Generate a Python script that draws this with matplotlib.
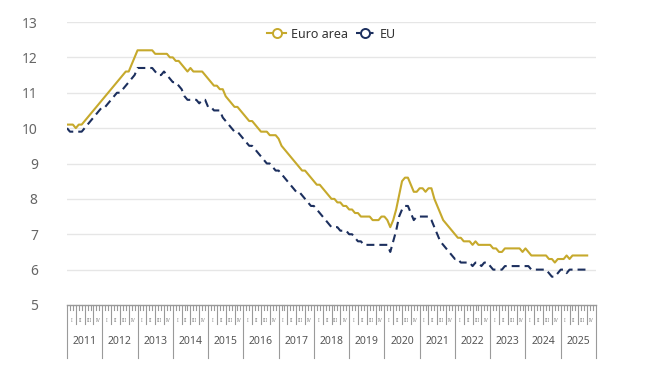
import matplotlib
matplotlib.use("Agg")
import matplotlib.pyplot as plt
from matplotlib.lines import Line2D
import numpy as np

plt.rcParams['font.family'] = ['Noto Sans', 'DejaVu Sans']

years = list(range(2011, 2026))
quarters = ["I", "II", "III", "IV"]

euro_area = [
    # 2011
    10.1, 10.1, 10.1, 10.0, 10.1, 10.1, 10.2, 10.3, 10.4, 10.5, 10.6, 10.7,
    # 2012
    10.8, 10.9, 11.0, 11.1, 11.2, 11.3, 11.4, 11.5, 11.6, 11.6, 11.8, 12.0,
    # 2013
    12.2, 12.2, 12.2, 12.2, 12.2, 12.2, 12.1, 12.1, 12.1, 12.1, 12.1, 12.0,
    # 2014
    12.0, 11.9, 11.9, 11.8, 11.7, 11.6, 11.7, 11.6, 11.6, 11.6, 11.6, 11.5,
    # 2015
    11.4, 11.3, 11.2, 11.2, 11.1, 11.1, 10.9, 10.8, 10.7, 10.6, 10.6, 10.5,
    # 2016
    10.4, 10.3, 10.2, 10.2, 10.1, 10.0, 9.9, 9.9, 9.9, 9.8, 9.8, 9.8,
    # 2017
    9.7, 9.5, 9.4, 9.3, 9.2, 9.1, 9.0, 8.9, 8.8, 8.8, 8.7, 8.6,
    # 2018
    8.5, 8.4, 8.4, 8.3, 8.2, 8.1, 8.0, 8.0, 7.9, 7.9, 7.8, 7.8,
    # 2019
    7.7, 7.7, 7.6, 7.6, 7.5, 7.5, 7.5, 7.5, 7.4, 7.4, 7.4, 7.5,
    # 2020
    7.5, 7.4, 7.2, 7.4, 7.7, 8.1, 8.5, 8.6, 8.6, 8.4, 8.2, 8.2,
    # 2021
    8.3, 8.3, 8.2, 8.3, 8.3, 8.0, 7.8, 7.6, 7.4, 7.3, 7.2, 7.1,
    # 2022
    7.0, 6.9, 6.9, 6.8, 6.8, 6.8, 6.7, 6.8, 6.7, 6.7, 6.7, 6.7,
    # 2023
    6.7, 6.6, 6.6, 6.5, 6.5, 6.6, 6.6, 6.6, 6.6, 6.6, 6.6, 6.5,
    # 2024
    6.6, 6.5, 6.4, 6.4, 6.4, 6.4, 6.4, 6.4, 6.3, 6.3, 6.2, 6.3,
    # 2025
    6.3, 6.3, 6.4, 6.3, 6.4, 6.4, 6.4, 6.4, 6.4, 6.4,
]

eu = [
    # 2011
    10.0, 9.9, 9.9, 9.9, 9.9, 9.9, 10.0, 10.1, 10.2, 10.3, 10.4, 10.5,
    # 2012
    10.6, 10.6, 10.7, 10.8, 10.9, 11.0, 11.0, 11.1, 11.2, 11.3, 11.4, 11.5,
    # 2013
    11.7, 11.7, 11.7, 11.7, 11.7, 11.7, 11.6, 11.5, 11.5, 11.6, 11.5, 11.4,
    # 2014
    11.3, 11.3, 11.2, 11.1, 10.9, 10.8, 10.8, 10.8, 10.8, 10.7, 10.8, 10.8,
    # 2015
    10.6, 10.6, 10.5, 10.5, 10.5, 10.3, 10.2, 10.1, 10.0, 9.9, 9.9, 9.8,
    # 2016
    9.7, 9.6, 9.5, 9.5, 9.4, 9.3, 9.2, 9.1, 9.0, 9.0, 8.9, 8.8,
    # 2017
    8.8, 8.7, 8.6, 8.5, 8.4, 8.3, 8.2, 8.2, 8.1, 8.0, 7.9, 7.8,
    # 2018
    7.8, 7.7, 7.6, 7.5, 7.4, 7.3, 7.2, 7.2, 7.2, 7.1, 7.1, 7.1,
    # 2019
    7.0, 7.0, 6.9, 6.8, 6.8, 6.7, 6.7, 6.7, 6.7, 6.7, 6.7, 6.7,
    # 2020
    6.7, 6.7, 6.5, 6.8, 7.1, 7.5, 7.7, 7.8, 7.8, 7.6, 7.4, 7.5,
    # 2021
    7.5, 7.5, 7.5, 7.5, 7.4, 7.2, 7.0, 6.8, 6.7, 6.6, 6.5, 6.4,
    # 2022
    6.3, 6.3, 6.2, 6.2, 6.2, 6.2, 6.1, 6.2, 6.2, 6.1, 6.2, 6.2,
    # 2023
    6.1, 6.0, 6.0, 6.0, 6.0, 6.1, 6.1, 6.1, 6.1, 6.1, 6.1, 6.1,
    # 2024
    6.1, 6.1, 6.0, 6.0, 6.0, 6.0, 6.0, 6.0, 5.9, 5.8, 5.8, 5.9,
    # 2025
    6.0, 6.0, 5.9, 6.0, 6.0, 6.0, 6.0, 6.0, 6.0, 6.0,
]

series_names = ["Euro area", "EU"]
yticks = list(range(5, 14))

EURO_C = "#c6a92c"
EU_C = "#1c2f5e"
GRID_C = "#e6e6e6"
AX_C = "#9a9a9a"
TXT_C = "#666666"

W, H = 650, 365
fig = plt.figure(figsize=(W / 100, H / 100), dpi=100)
L, R, T, B = 67, 596, 22, 305
ax = fig.add_axes([L / W, 1 - B / H, (R - L) / W, (B - T) / H])
ax_h = B - T

n_months = len(years) * 12
months = np.arange(len(euro_area))
ax.set_xlim(0, n_months)
ax.set_ylim(5, 13)

for s in ax.spines.values():
    s.set_visible(False)
ax.set_xticks([])
ax.set_yticks(yticks)
ax.set_yticklabels([str(v) for v in yticks])
ax.tick_params(axis='y', length=0, pad=21, labelsize=10, labelcolor=TXT_C)
for v in yticks[1:]:
    ax.axhline(v, color=GRID_C, lw=1.0, zorder=0)

ax.plot(months, euro_area, color=EURO_C, lw=1.5, zorder=3)
ax.plot(np.arange(len(eu)), eu, color=EU_C, lw=1.5,
        ls=(0, (3.8, 2.4)), zorder=3)

# x axis ruler
tr = ax.get_xaxis_transform()
ax.plot([0, n_months], [0, 0], color=AX_C, lw=1.0, transform=tr, clip_on=False)
for m in range(n_months + 1):
    if m % 12 == 0:
        ln = 53
    elif m % 3 == 0:
        ln = 19
    else:
        ln = 5
    ax.plot([m, m], [0, -ln / ax_h], color=AX_C, lw=0.8, transform=tr, clip_on=False)

for yi, yr in enumerate(years):
    for q in range(4):
        ax.text(yi * 12 + q * 3 + 1.5, -15.5 / ax_h, quarters[q], transform=tr,
                ha='center', va='center', fontsize=3.6, color="#888888")
    ax.text(yi * 12 + 6, -37 / ax_h, str(yr), transform=tr, ha='center',
            va='center', fontsize=7.5, color="#555555")

handles = [
    Line2D([], [], color=EURO_C, lw=1.5, marker='o', markersize=6.5,
           markerfacecolor='white', markeredgewidth=1.4),
    Line2D([], [], color=EU_C, lw=1.5, ls=(0, (2, 1.2)), marker='o', markersize=6.5,
           markerfacecolor='white', markeredgewidth=1.4),
]
leg = ax.legend(handles, series_names, loc='center', bbox_to_anchor=(0.5, (B - 34) / ax_h),
                ncol=2, frameon=False, fontsize=9, handlelength=1.5,
                handletextpad=0.4, columnspacing=0.6, borderaxespad=0)
for t in leg.get_texts():
    t.set_color("#333333")

fig.savefig("out.png", dpi=100, facecolor='white')
